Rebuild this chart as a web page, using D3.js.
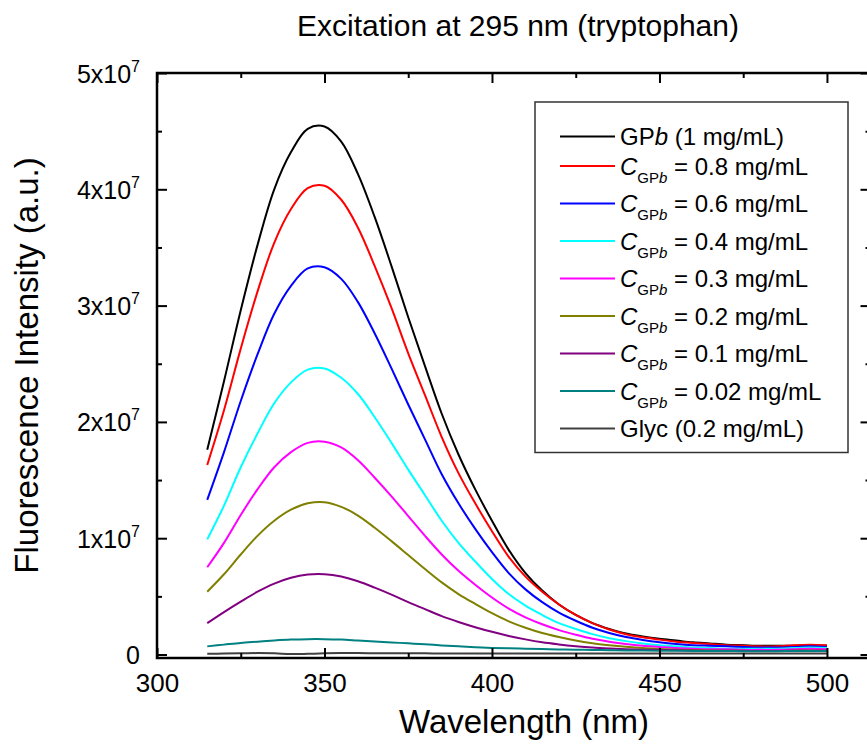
<!DOCTYPE html>
<html>
<head>
<meta charset="utf-8">
<script src="https://cdn.jsdelivr.net/npm/d3@7"></script>
<style>
  body { margin: 0; background: #fff; }
  svg { display: block; }
  text { font-family: "Liberation Sans", Arial, sans-serif; fill: #000; }
</style>
</head>
<body>
<svg id="chart" width="867" height="751"></svg>
<script>
// Emission wavelengths (nm)
const wavelengths = [315,320,325,330,335,340,345,350,355,360,365,370,375,380,385,390,395,400,
  405,410,415,420,425,430,435,440,445,450,455,460,465,470,475,480,485,490,495,500];

// Fluorescence intensity, in units of 1x10^7 a.u.
const gpb1mg = [1.76,2.35,2.96,3.52,4.00,4.32,4.52,4.54,4.41,4.13,3.76,3.34,2.90,2.48,2.07,1.72,1.42,1.15,
  0.90,0.70,0.55,0.43,0.34,0.27,0.22,0.18,0.155,0.135,0.12,0.105,0.095,0.085,0.08,0.075,0.075,0.075,0.08,0.075];
const gpb08 = [1.63,2.10,2.63,3.12,3.54,3.83,4.01,4.03,3.91,3.67,3.34,2.98,2.59,2.23,1.87,1.56,1.30,1.06,
  0.84,0.67,0.54,0.43,0.34,0.27,0.215,0.175,0.148,0.128,0.11,0.10,0.09,0.08,0.075,0.07,0.07,0.08,0.085,0.08];
const gpb06 = [1.33,1.74,2.18,2.58,2.93,3.17,3.32,3.33,3.23,3.03,2.76,2.46,2.15,1.85,1.55,1.30,1.08,0.88,
  0.70,0.56,0.45,0.36,0.29,0.23,0.185,0.15,0.125,0.105,0.09,0.08,0.075,0.07,0.065,0.06,0.06,0.065,0.07,0.065];
const gpb04 = [0.99,1.28,1.61,1.90,2.16,2.34,2.45,2.46,2.38,2.24,2.04,1.82,1.59,1.37,1.15,0.96,0.80,0.65,
  0.52,0.42,0.34,0.27,0.22,0.175,0.14,0.115,0.095,0.08,0.07,0.06,0.055,0.05,0.05,0.05,0.05,0.055,0.06,0.055];
const gpb03 = [0.75,0.96,1.20,1.42,1.61,1.74,1.82,1.83,1.78,1.67,1.52,1.36,1.19,1.02,0.86,0.72,0.60,0.49,
  0.395,0.32,0.26,0.21,0.17,0.135,0.11,0.09,0.075,0.065,0.055,0.05,0.045,0.045,0.04,0.04,0.04,0.045,0.05,0.045];
const gpb02 = [0.54,0.69,0.86,1.02,1.15,1.245,1.30,1.31,1.27,1.195,1.09,0.975,0.855,0.735,0.62,0.52,0.435,0.355,
  0.285,0.23,0.185,0.15,0.12,0.097,0.08,0.066,0.055,0.048,0.042,0.038,0.035,0.033,0.032,0.03,0.03,0.033,0.035,0.033];
const gpb01 = [0.27,0.365,0.455,0.54,0.61,0.66,0.687,0.69,0.67,0.63,0.575,0.515,0.45,0.39,0.33,0.28,0.235,0.195,
  0.16,0.13,0.105,0.087,0.072,0.06,0.052,0.046,0.042,0.039,0.036,0.034,0.033,0.032,0.031,0.03,0.03,0.032,0.033,0.032];
const gpb002 = [0.07,0.085,0.10,0.11,0.12,0.128,0.132,0.132,0.128,0.12,0.112,0.104,0.096,0.088,0.078,0.07,0.063,0.057,
  0.053,0.05,0.047,0.044,0.041,0.039,0.037,0.035,0.034,0.033,0.032,0.031,0.03,0.03,0.029,0.029,0.029,0.03,0.03,0.03];
const glyc02 = [0.006,0.008,0.010,0.012,0.010,0.004,0.006,0.010,0.012,0.012,0.011,0.010,0.010,0.010,0.009,0.009,0.009,0.009,
  0.009,0.009,0.008,0.008,0.008,0.008,0.008,0.008,0.008,0.008,0.008,0.008,0.008,0.008,0.008,0.008,0.008,0.009,0.009,0.009];

const seriesValues = [gpb1mg, gpb08, gpb06, gpb04, gpb03, gpb02, gpb01, gpb002, glyc02];
const seriesColors = ["#000000","#ff0000","#0000ff","#00ffff","#ff00ff","#808000","#800080","#008080","#404040"];
const concentrations = [null,"0.8","0.6","0.4","0.3","0.2","0.1","0.02",null];

// Axis ticks
const xMajorTicks = [300,350,400,450,500];
const xMinorTicks = [325,375,425,475];
const yMajorTicks = [0,1,2,3,4,5];
const yMinorTicks = [0.5,1.5,2.5,3.5,4.5];
const yTickExponent = "7";

const titleText = "Excitation at 295 nm (tryptophan)";
const xTitle = "Wavelength (nm)";
const yTitle = "Fluorescence Intensity (a.u.)";

// ---- layout ----
const svg = d3.select("#chart");
const plotLeft = 157, plotRight = 870.5, plotTop = 73, plotBottom = 658;
const x = d3.scaleLinear().domain([300, 513]).range([plotLeft, plotRight]);
const y = d3.scaleLinear().domain([-0.03, 5]).range([plotBottom, plotTop]);

// curves
const line = d3.line()
  .x(d => x(d[0]))
  .y(d => y(d[1]))
  .curve(d3.curveCatmullRom.alpha(0.5));

const plot = svg.append("g");
seriesValues.forEach((vals, i) => {
  plot.append("path")
    .datum(wavelengths.map((w, k) => [w, vals[k]]))
    .attr("fill", "none")
    .attr("stroke", seriesColors[i])
    .attr("stroke-width", 2)
    .attr("stroke-linejoin", "round")
    .attr("d", line);
});

// axes: ticks point inward
function styleAxis(g) {
  g.select(".domain").remove();
  g.selectAll(".tick line").attr("stroke", "#000").attr("stroke-width", 2);
}
svg.append("g").attr("transform", `translate(0,${plotBottom})`)
  .call(d3.axisBottom(x).tickValues(xMajorTicks).tickSize(-10).tickFormat(d3.format("d")))
  .call(styleAxis)
  .call(g => g.selectAll(".tick text")
    .attr("y", 34).attr("dy", 0)
    .style("font-size", "26px").style("font-family", "'Liberation Sans', Arial, sans-serif"));
svg.append("g").attr("transform", `translate(0,${plotBottom})`)
  .call(d3.axisBottom(x).tickValues(xMinorTicks).tickSize(-5).tickFormat(""))
  .call(styleAxis);
svg.append("g").attr("transform", `translate(0,${plotTop})`)
  .call(d3.axisTop(x).tickValues(xMajorTicks).tickSize(-10).tickFormat(""))
  .call(styleAxis);
svg.append("g").attr("transform", `translate(0,${plotTop})`)
  .call(d3.axisTop(x).tickValues(xMinorTicks).tickSize(-5).tickFormat(""))
  .call(styleAxis);

svg.append("g").attr("transform", `translate(${plotLeft},0)`)
  .call(d3.axisLeft(y).tickValues(yMajorTicks).tickSize(-10).tickFormat(""))
  .call(styleAxis)
  .call(g => g.selectAll(".tick text").each(function(d) {
    const t = d3.select(this)
      .attr("x", -17).attr("dy", "0.36em")
      .attr("text-anchor", "end")
      .style("font-size", "25px").style("font-family", "'Liberation Sans', Arial, sans-serif");
    if (d === 0) { t.text("0"); return; }
    t.text(null);
    t.append("tspan").text(d + "x10");
    t.append("tspan").attr("dy", -11).style("font-size", "16px").text(yTickExponent);
  }));
svg.append("g").attr("transform", `translate(${plotLeft},0)`)
  .call(d3.axisLeft(y).tickValues(yMinorTicks).tickSize(-5).tickFormat(""))
  .call(styleAxis);
svg.append("g").attr("transform", `translate(${plotRight},0)`)
  .call(d3.axisRight(y).tickValues(yMajorTicks).tickSize(-10).tickFormat(""))
  .call(styleAxis);
svg.append("g").attr("transform", `translate(${plotRight},0)`)
  .call(d3.axisRight(y).tickValues(yMinorTicks).tickSize(-5).tickFormat(""))
  .call(styleAxis);

// frame
svg.append("rect")
  .attr("x", plotLeft).attr("y", plotTop)
  .attr("width", plotRight - plotLeft).attr("height", plotBottom - plotTop)
  .attr("fill", "none").attr("stroke", "#000").attr("stroke-width", 2.5);

// titles
svg.append("text").attr("x", 518).attr("y", 36).attr("text-anchor", "middle")
  .style("font-size", "30px").text(titleText);
svg.append("text").attr("x", 524).attr("y", 733).attr("text-anchor", "middle")
  .style("font-size", "33px").text(xTitle);
svg.append("text").attr("transform", `translate(38,${(plotTop + plotBottom) / 2}) rotate(-90)`)
  .attr("text-anchor", "middle").style("font-size", "33px").text(yTitle);

// legend
const lg = svg.append("g");
const boxLeft = 535, boxRight = 848, boxTop = 102;
const rowY = [];
let yy = 136.5;
concentrations.forEach((c, i) => {
  if (i > 0) yy += (concentrations[i - 1] === null && c !== null) ? 29.5 : 37.5;
  rowY.push(yy);
});
const boxBottom = rowY[rowY.length - 1] + 24;
lg.append("rect")
  .attr("x", boxLeft).attr("y", boxTop)
  .attr("width", boxRight - boxLeft).attr("height", boxBottom - boxTop)
  .attr("fill", "#fff").attr("stroke", "#333").attr("stroke-width", 1.5);

concentrations.forEach((c, i) => {
  const ly = rowY[i];
  lg.append("line")
    .attr("x1", 560).attr("x2", 615).attr("y1", ly).attr("y2", ly)
    .attr("stroke", seriesColors[i]).attr("stroke-width", 2);
  const t = lg.append("text").attr("x", 620).attr("y", ly + 8.5).style("font-size", "24px");
  if (i === 0) {
    t.append("tspan").text("GP");
    t.append("tspan").style("font-style", "italic").text("b");
    t.append("tspan").text(" (1 mg/mL)");
  } else if (c === null) {
    t.text("Glyc (0.2 mg/mL)");
  } else {
    t.append("tspan").style("font-style", "italic").text("C");
    t.append("tspan").attr("dy", 8).style("font-size", "15px").text("GP");
    t.append("tspan").style("font-size", "15px").style("font-style", "italic").text("b");
    t.append("tspan").attr("dy", -8).text(" = " + c + " mg/mL");
  }
});
</script>
</body>
</html>
